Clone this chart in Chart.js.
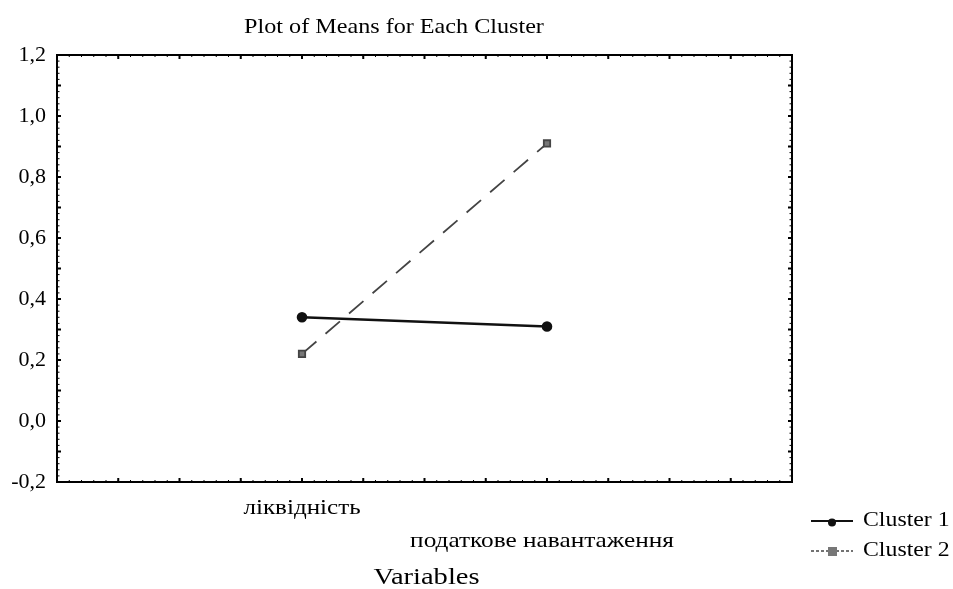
<!DOCTYPE html>
<html>
<head>
<meta charset="utf-8">
<script src="https://cdn.jsdelivr.net/npm/chart.js@4.4.1/dist/chart.umd.min.js"></script>
<style>
  html, body { margin: 0; padding: 0; background: #fff; }
  #wrap { width: 953px; height: 589px; }
</style>
</head>
<body>
<div id="wrap"><canvas id="meansChart" width="953" height="589"></canvas></div>
<script>
// data
const variables = ['ліквідність', 'податкове навантаження'];
const cluster1 = [0.34, 0.31];
const cluster2 = [0.22, 0.91];
const seriesNames = ['Cluster 1', 'Cluster 2'];
const yTicks = [-0.2, 0.0, 0.2, 0.4, 0.6, 0.8, 1.0, 1.2];

const serif = '"Liberation Serif", "DejaVu Serif", serif';

// the scanned original has slightly wide text, so stretch it a bit
function wideText(ctx, text, x, y, size, stretch, align) {
    ctx.save();
    ctx.font = size + 'px ' + serif;
    ctx.textAlign = align || 'center';
    ctx.textBaseline = 'middle';
    ctx.translate(x, y);
    ctx.scale(stretch, 1);
    ctx.fillText(text, 0, 0);
    ctx.restore();
}

// frame, inward ticks, category labels, title, legend
const decorPlugin = {
    id: 'decor',
    afterDraw(chart) {
        const ctx = chart.ctx;
        const { left, right, top, bottom } = chart.chartArea;
        const xs = chart.scales.x, ys = chart.scales.y;
        ctx.save();
        ctx.strokeStyle = '#000';
        ctx.lineWidth = 2;
        ctx.strokeRect(left, top, right - left, bottom - top);

        // major inward ticks
        ctx.beginPath();
        for (let v = 0.25; v < 3; v += 0.25) {
            const px = xs.getPixelForValue(v);
            ctx.moveTo(px, bottom); ctx.lineTo(px, bottom - 4);
            ctx.moveTo(px, top); ctx.lineTo(px, top + 4);
        }
        for (let k = -1; k <= 11; k++) {
            const py = ys.getPixelForValue(k / 10);
            ctx.moveTo(left, py); ctx.lineTo(left + 4, py);
            ctx.moveTo(right, py); ctx.lineTo(right - 4, py);
        }
        ctx.stroke();

        // minor ticks
        ctx.lineWidth = 1;
        ctx.beginPath();
        for (let k = 1; k < 60; k++) {
            const px = xs.getPixelForValue(k * 0.05);
            ctx.moveTo(px, bottom); ctx.lineTo(px, bottom - 2);
            ctx.moveTo(px, top); ctx.lineTo(px, top + 2);
        }
        for (let k = -9; k < 60; k++) {
            const py = ys.getPixelForValue(k * 0.02);
            ctx.moveTo(left, py); ctx.lineTo(left + 2.5, py);
            ctx.moveTo(right, py); ctx.lineTo(right - 2.5, py);
        }
        ctx.stroke();

        // category labels, staggered
        ctx.fillStyle = '#000';
        wideText(ctx, variables[0], xs.getPixelForValue(1), bottom + 26, 22, 1.14);
        wideText(ctx, variables[1], xs.getPixelForValue(2) - 5, bottom + 59, 22, 1.15);
        wideText(ctx, 'Variables', (left + right) / 2 + 2, bottom + 96, 23, 1.24);

        // title
        wideText(ctx, 'Plot of Means for Each Cluster', 394, 27, 21, 1.15);

        // legend
        chart.data.datasets.forEach((ds, i) => {
            const y = 521 + i * 30;
            ctx.strokeStyle = ds.borderColor;
            ctx.lineWidth = i === 0 ? 2.2 : 1.6;
            ctx.setLineDash(i === 1 ? [3, 2] : []);
            ctx.beginPath();
            ctx.moveTo(811, y); ctx.lineTo(853, y);
            ctx.stroke();
            ctx.setLineDash([]);
            ctx.fillStyle = ds.pointBackgroundColor;
            if (i === 0) {
                ctx.beginPath();
                ctx.arc(832, y + 1.5, 4, 0, Math.PI * 2);
                ctx.fill();
            } else {
                ctx.fillRect(828, y - 4, 9, 9);
            }
            ctx.fillStyle = '#000';
            wideText(ctx, seriesNames[i], 863, y, 20, 1.19, 'left');
        });
        ctx.restore();
    }
};

new Chart(document.getElementById('meansChart'), {
    type: 'line',
    data: {
        datasets: [
            {
                label: seriesNames[0],
                data: cluster1.map((v, i) => ({ x: i + 1, y: v })),
                borderColor: '#111',
                borderWidth: 2.6,
                pointStyle: 'circle',
                pointRadius: 4,
                pointBackgroundColor: '#111',
                pointBorderColor: '#111'
            },
            {
                label: seriesNames[1],
                data: cluster2.map((v, i) => ({ x: i + 1, y: v })),
                borderColor: '#444',
                borderWidth: 1.8,
                borderDash: [19, 12],
                pointStyle: 'rect',
                pointRadius: 4.5,
                pointBackgroundColor: '#777',
                pointBorderColor: '#444'
            }
        ]
    },
    options: {
        responsive: false,
        animation: false,
        layout: { padding: { top: 55, right: 161, bottom: 0, left: 0 } },
        plugins: {
            legend: { display: false },
            title: { display: false },
            tooltip: { enabled: false }
        },
        scales: {
            x: {
                type: 'linear',
                min: 0,
                max: 3,
                grid: { display: false },
                border: { display: false },
                ticks: { display: false },
                afterFit: (s) => { s.height = 107; }
            },
            y: {
                min: -0.2,
                max: 1.2,
                grid: { display: false, drawTicks: false },
                border: { display: false },
                afterBuildTicks: (s) => { s.ticks = yTicks.map(v => ({ value: v })); },
                afterFit: (s) => { s.width = 57; },
                ticks: {
                    padding: 11,
                    color: '#000',
                    font: { family: serif, size: 22 },
                    callback: (v) => v.toFixed(1).replace('.', ',')
                }
            }
        }
    },
    plugins: [decorPlugin]
});
</script>
</body>
</html>
